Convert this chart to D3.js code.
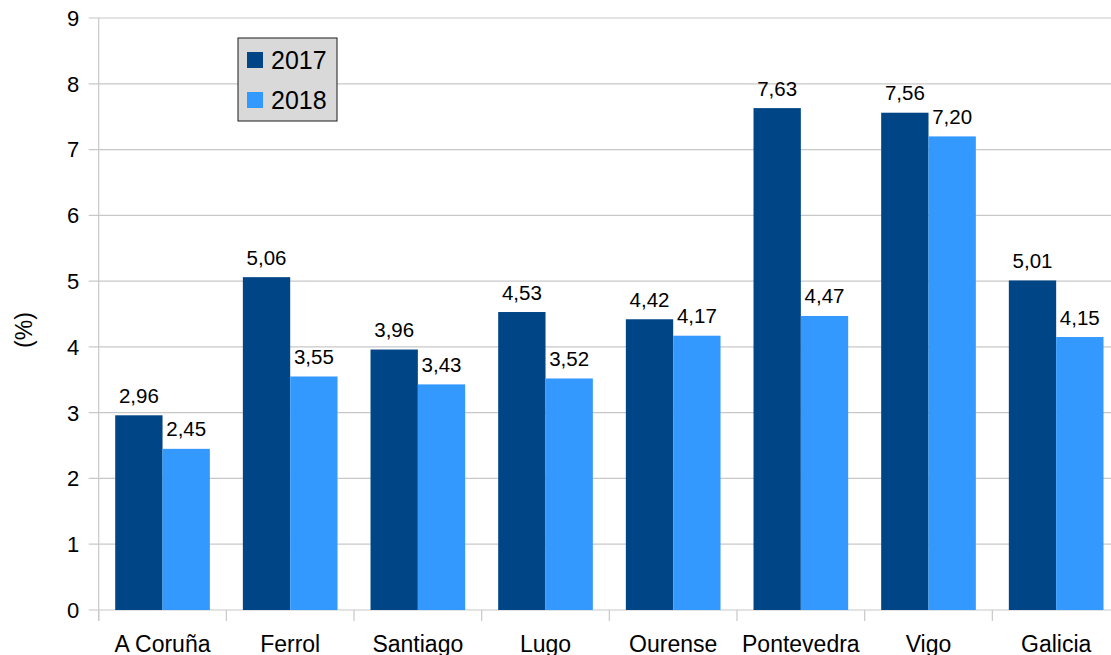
<!DOCTYPE html>
<html>
<head>
<meta charset="utf-8">
<script src="https://cdn.jsdelivr.net/npm/d3@7"></script>
<style>
  body { margin: 0; background: #fff; }
  svg { display: block; font-family: 'Liberation Sans', Arial, sans-serif; }
</style>
</head>
<body>
<div id="chart"></div>
<script>
// data
const categories = ['A Coruña', 'Ferrol', 'Santiago', 'Lugo', 'Ourense', 'Pontevedra', 'Vigo', 'Galicia']
const series = ['2017', '2018']
const values2017 = [2.96, 5.06, 3.96, 4.53, 4.42, 7.63, 7.56, 5.01]
const values2018 = [2.45, 3.55, 3.43, 3.52, 4.17, 4.47, 7.20, 4.15]
const yTicks = [0, 1, 2, 3, 4, 5, 6, 7, 8, 9]

const colors = { '2017': '#004586', '2018': '#3399ff' }

const totalWidth = 1111
const totalHeight = 655
const margin = { top: 18, left: 98.7, right: -9, bottom: 45 }
const width = totalWidth - margin.left - margin.right
const height = totalHeight - margin.top - margin.bottom

const svg = d3
  .select('#chart')
  .append('svg')
  .attr('width', totalWidth)
  .attr('height', totalHeight)

const g = svg
  .append('g')
  .attr('transform', 'translate(' + margin.left + ',' + margin.top + ')')

const xPositionScale = d3
  .scaleBand()
  .domain(categories)
  .range([0, width])
  .paddingInner(0)
  .paddingOuter(0)

const groupScale = d3
  .scaleBand()
  .domain(series)
  .range([16.5, xPositionScale.bandwidth() - 16.5])

const yPositionScale = d3
  .scaleLinear()
  .domain([0, 9])
  .range([height, 0])

// gridlines
g.selectAll('.grid')
  .data(yTicks)
  .enter()
  .append('line')
  .attr('class', 'grid')
  .attr('x1', -10)
  .attr('x2', width)
  .attr('y1', d => yPositionScale(d))
  .attr('y2', d => yPositionScale(d))
  .attr('stroke', '#c8c8c8')
  .attr('stroke-width', 1.2)

// y tick labels
g.selectAll('.ylabel')
  .data(yTicks)
  .enter()
  .append('text')
  .attr('x', -19.5)
  .attr('y', d => yPositionScale(d))
  .attr('dy', '0.36em')
  .attr('text-anchor', 'end')
  .attr('font-size', 22)
  .attr('fill', '#000')
  .text(d => d)

// y axis line
g.append('line')
  .attr('x1', 0)
  .attr('x2', 0)
  .attr('y1', 0)
  .attr('y2', height + 11)
  .attr('stroke', '#c8c8c8')
  .attr('stroke-width', 1.2)

// x ticks between categories
g.selectAll('.xtick')
  .data(categories)
  .enter()
  .append('line')
  .attr('x1', d => xPositionScale(d))
  .attr('x2', d => xPositionScale(d))
  .attr('y1', height)
  .attr('y2', height + 11)
  .attr('stroke', '#c8c8c8')
  .attr('stroke-width', 1.2)

// bars
const rows = categories.map((c, i) => ({
  category: c,
  values: [
    { key: '2017', value: values2017[i] },
    { key: '2018', value: values2018[i] }
  ]
}))

const groups = g
  .selectAll('.group')
  .data(rows)
  .enter()
  .append('g')
  .attr('transform', d => 'translate(' + xPositionScale(d.category) + ',0)')

groups
  .selectAll('rect')
  .data(d => d.values)
  .enter()
  .append('rect')
  .attr('x', d => groupScale(d.key))
  .attr('width', groupScale.bandwidth())
  .attr('y', d => yPositionScale(d.value))
  .attr('height', d => height - yPositionScale(d.value))
  .attr('fill', d => colors[d.key])

groups
  .selectAll('.value')
  .data(d => d.values)
  .enter()
  .append('text')
  .attr('class', 'value')
  .attr('x', d => groupScale(d.key) + groupScale.bandwidth() / 2)
  .attr('y', d => yPositionScale(d.value) - 12.5)
  .attr('text-anchor', 'middle')
  .attr('font-size', 20.5)
  .attr('fill', '#000')
  .text(d => d.value.toFixed(2).replace('.', ','))

// category labels
g.selectAll('.xlabel')
  .data(categories)
  .enter()
  .append('text')
  .attr('x', d => xPositionScale(d) + xPositionScale.bandwidth() / 2)
  .attr('y', height + 41.5)
  .attr('text-anchor', 'middle')
  .attr('font-size', 23)
  .attr('fill', '#000')
  .text(d => d)

// y axis title
svg
  .append('text')
  .attr('transform', 'translate(32,330) rotate(-90)')
  .attr('text-anchor', 'middle')
  .attr('font-size', 23)
  .attr('fill', '#000')
  .text('(%)')

// legend
const legend = svg.append('g').attr('transform', 'translate(238,38)')

legend
  .append('rect')
  .attr('width', 99)
  .attr('height', 83)
  .attr('fill', '#d9d9d9')
  .attr('stroke', '#1a1a1a')
  .attr('stroke-width', 1)

legend
  .selectAll('.item')
  .data(series)
  .enter()
  .append('g')
  .attr('transform', (d, i) => 'translate(9,' + (14 + i * 40) + ')')
  .each(function(d) {
    const item = d3.select(this)
    item
      .append('rect')
      .attr('width', 16)
      .attr('height', 16)
      .attr('fill', colors[d])
    item
      .append('text')
      .attr('x', 24)
      .attr('y', 8)
      .attr('dy', '0.36em')
      .attr('font-size', 25)
      .attr('fill', '#000')
      .text(d)
  })
</script>
</body>
</html>
